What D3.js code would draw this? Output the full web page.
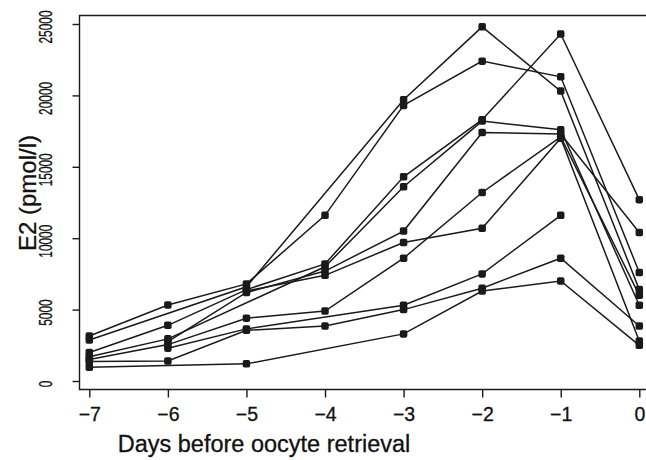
<!DOCTYPE html>
<html>
<head>
<meta charset="utf-8">
<script src="https://cdn.jsdelivr.net/npm/d3@7"></script>
<style>
  body { margin: 0; background: #fff; }
  text { font-family: "Liberation Sans", Arial, sans-serif; fill: #111; stroke: #111; stroke-width: 0.3px; }
</style>
</head>
<body>
<svg id="chart" width="646" height="460"></svg>
<script>
// Sampling days relative to oocyte retrieval
const days = [-7, -6, -5, -4, -3, -2, -1, 0];
const yTicks = [0, 5000, 10000, 15000, 20000, 25000];

// Serum E2 (pmol/l) per patient; null = no sample that day
const p1  = [2870, null, 6600, null, 19700, 24800, 20300, 6400];
const p2  = [3150, 5320, 6800, 11600, 19300, 22400, 21300, 7600];
const p3  = [2000, 3900, 6400, 8200, 14300, 18300, 24300, 12700];
const p4  = [1700, 2950, null, 8000, 13600, 18200, 17600, 5300];
const p5  = [null, 2750, 6200, 7700, 10500, 17400, 17300, 10400];
const p6  = [1500, 2550, 4400, 4900, 8600, 13200, 17100, 6000];
const p7  = [null, null, 6300, 7400, 9700, 10700, 17000, 2800];
const p8  = [null, 2300, 3650, null, 5300, 7500, 11600, null];
const p9  = [1370, 1400, 3550, 3850, 5000, 6500, 8600, 3850];
const p10 = [960, null, 1200, null, 3300, 6300, 7000, 2500];
const patients = [p1, p2, p3, p4, p5, p6, p7, p8, p9, p10];

const svg = d3.select("#chart");
const ink = "#1a1a1a";

const x = d3.scaleLinear().domain([-7, 0]).range([89.3, 639.3]);
const y = d3.scaleLinear().domain([0, 25000]).range([381, 24]);

// plot frame (open beyond the right edge)
svg.append("path")
  .attr("d", "M700,15.5H79.5V389.5H700")
  .attr("fill", "none").attr("stroke", ink).attr("stroke-width", 1.4);

// x axis
const xAxis = svg.append("g")
  .attr("transform", "translate(0,389.5)")
  .call(d3.axisBottom(x).tickValues(days).tickSize(8).tickFormat(d3.format("d")));
xAxis.select(".domain").remove();
xAxis.selectAll(".tick line").attr("stroke", ink).attr("stroke-width", 1.4);
xAxis.selectAll(".tick text")
  .attr("y", 0).attr("dy", null)
  .attr("transform", "translate(0,31)")
  .style("font-size", "19.5px")
  .attr("fill", ink);

// y axis
const yAxis = svg.append("g")
  .attr("transform", "translate(79.5,0)")
  .call(d3.axisLeft(y).tickValues(yTicks).tickSize(7).tickFormat(d3.format("d")));
yAxis.select(".domain").remove();
yAxis.selectAll(".tick line").attr("stroke", ink).attr("stroke-width", 1.4);
yAxis.selectAll(".tick text")
  .attr("x", null).attr("dy", null)
  .attr("text-anchor", "middle")
  .attr("transform", "translate(-28,2.5) rotate(-90)")
  .style("font-size", "19px")
  .attr("textLength", d => String(d).length * 6.6)
  .attr("lengthAdjust", "spacingAndGlyphs")
  .attr("fill", ink);

// axis titles
svg.append("text")
  .attr("x", 264).attr("y", 452)
  .attr("text-anchor", "middle")
  .style("font-size", "23.5px")
  .text("Days before oocyte retrieval");
svg.append("text")
  .attr("transform", "translate(36,193) rotate(-90)")
  .attr("text-anchor", "middle")
  .style("font-size", "24px")
  .text("E2 (pmol/l)");

// patient trajectories
const line = d3.line().x(d => x(d.day)).y(d => y(d.v));
const seriesData = patients.map(p =>
  days.map((day, i) => ({ day, v: p[i] })).filter(d => d.v != null));

svg.append("g").selectAll("path")
  .data(seriesData).join("path")
  .attr("d", line)
  .attr("fill", "none")
  .attr("stroke", ink)
  .attr("stroke-width", 1.5);

const s = 7.5;
svg.append("g").selectAll("rect")
  .data(seriesData.flat()).join("rect")
  .attr("x", d => x(d.day) - s / 2)
  .attr("y", d => y(d.v) - s / 2)
  .attr("width", s).attr("height", s)
  .attr("rx", 1.8)
  .attr("fill", ink);
</script>
</body>
</html>
